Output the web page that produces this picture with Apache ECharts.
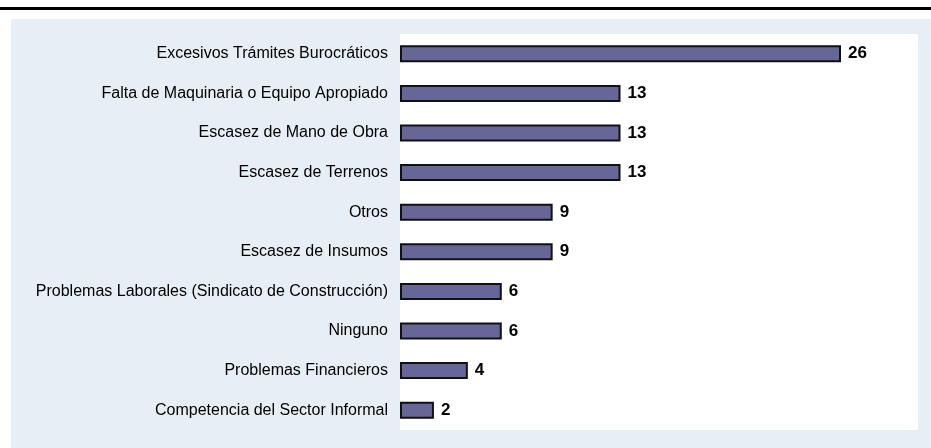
<!DOCTYPE html>
<html>
<head>
<meta charset="utf-8">
<script src="https://cdn.jsdelivr.net/npm/echarts@6/dist/echarts.min.js"></script>
<style>
  html, body { margin: 0; padding: 0; background: #ffffff; }
  #chart { width: 931px; height: 448px; }
</style>
</head>
<body>
<div id="chart"></div>
<script>
// Obstáculos señalados (número de respuestas)
const categories = [
  'Excesivos Trámites Burocráticos',
  'Falta de Maquinaria o Equipo Apropiado',
  'Escasez de Mano de Obra',
  'Escasez de Terrenos',
  'Otros',
  'Escasez de Insumos',
  'Problemas Laborales (Sindicato de Construcción)',
  'Ninguno',
  'Problemas Financieros',
  'Competencia del Sector Informal'
];
const values = [26, 13, 13, 13, 9, 9, 6, 6, 4, 2];

const chart = echarts.init(document.getElementById('chart'), null, { renderer: 'canvas' });

chart.setOption({
  backgroundColor: '#ffffff',
  animation: false,
  graphic: [
    // thick rule across the top
    { type: 'rect', left: 0, top: 7, shape: { width: 931, height: 3 }, style: { fill: '#000000' }, z: -10 },
    // light panel behind the chart
    { type: 'rect', left: 11, top: 19, shape: { width: 920, height: 429 }, style: { fill: '#e6eff5' }, z: -10 },
    // white plotting area
    { type: 'rect', left: 400, top: 34, shape: { width: 518, height: 396 }, style: { fill: '#ffffff' }, z: -9 }
  ],
  grid: { left: 400, top: 34, width: 518, height: 396, containLabel: false },
  xAxis: {
    type: 'value',
    min: 0,
    max: 30.54,
    show: false
  },
  yAxis: {
    type: 'category',
    data: categories,
    inverse: true,
    axisLine: { show: false },
    axisTick: { show: false },
    splitLine: { show: false },
    axisLabel: {
      margin: 12,
      color: '#000000',
      fontFamily: 'Liberation Sans, Arial, sans-serif',
      fontSize: 16
    }
  },
  series: [{
    type: 'bar',
    data: values,
    barWidth: 17,
    itemStyle: { color: '#666699', borderColor: '#111111', borderWidth: 2 },
    label: {
      show: true,
      position: 'right',
      distance: 7,
      color: '#000000',
      fontWeight: 'bold',
      fontFamily: 'Liberation Sans, Arial, sans-serif',
      fontSize: 17
    }
  }]
});
</script>
</body>
</html>
